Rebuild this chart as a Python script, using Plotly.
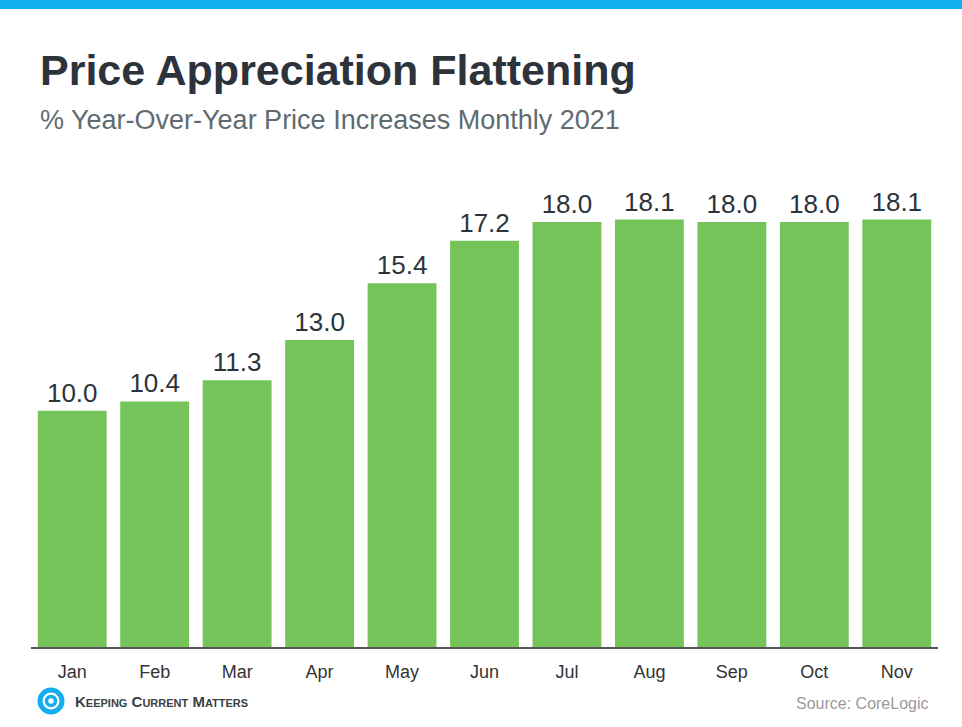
import plotly.graph_objects as go

months = ["Jan", "Feb", "Mar", "Apr", "May", "Jun", "Jul", "Aug", "Sep", "Oct", "Nov"]
yoy_pct = [10.0, 10.4, 11.3, 13.0, 15.4, 17.2, 18.0, 18.1, 18.0, 18.0, 18.1]

GREEN = "#74c45a"
BLUE = "#12aeef"
DARK = "#2d333b"

W, H = 962, 727
ML, MR, MT, MB = 31, 24, 170, 80

fig = go.Figure()
fig.add_trace(go.Bar(
    x=months,
    y=yoy_pct,
    marker=dict(color=GREEN, line=dict(width=0)),
    text=[f"{v:.1f}" for v in yoy_pct],
    textposition="outside",
    textfont=dict(size=26, color=DARK),
    cliponaxis=False,
    hoverinfo="skip",
))

# pixel -> paper coords helper for decorations
px_w = W - ML - MR
px_h = H - MT - MB
def px(x, y):
    return (x - ML) / px_w, (H - MB - y) / px_h

# top blue strip
x0, y0 = px(-5, 9)
x1, y1 = px(W + 5, -5)
fig.add_shape(type="rect", xref="paper", yref="paper",
              x0=x0, x1=x1, y0=y0, y1=y1, fillcolor=BLUE, line_width=0)

# logo swirl (rough)
cx, cy = 51, 701
for r, w in [(11, 5), (4.5, 3.5)]:
    x0, y0 = px(cx - r, cy + r)
    x1, y1 = px(cx + r, cy - r)
    fig.add_shape(type="circle", xref="paper", yref="paper",
                  x0=x0, x1=x1, y0=y0, y1=y1, line=dict(color=BLUE, width=w))

tx, ty = px(38, 70)
sx, sy = px(38, 120)
lx, ly = px(73, 701)
rx, ry = px(931, 703)

fig.update_layout(
    width=W,
    height=H,
    paper_bgcolor="white",
    plot_bgcolor="white",
    margin=dict(l=ML, r=MR, t=MT, b=MB),
    bargap=0.165,
    showlegend=False,
    font=dict(family="Liberation Sans, Arial, sans-serif", color="#333"),
    xaxis=dict(
        showgrid=False,
        showline=True,
        linecolor="#555",
        linewidth=1.5,
        ticks="",
        tickfont=dict(size=18, color="#333"),
        ticklabelstandoff=8,
    ),
    yaxis=dict(
        range=[0, 20.2],
        visible=False,
        fixedrange=True,
    ),
    annotations=[
        dict(text="<b>Price Appreciation Flattening</b>", xref="paper", yref="paper",
             x=tx, y=ty, xanchor="left", yanchor="middle", showarrow=False,
             font=dict(size=43, color=DARK)),
        dict(text="% Year-Over-Year Price Increases Monthly 2021", xref="paper", yref="paper",
             x=sx, y=sy, xanchor="left", yanchor="middle", showarrow=False,
             font=dict(size=27, color="#5f6b70")),
        dict(text="Source: CoreLogic", xref="paper", yref="paper",
             x=rx, y=ry, xanchor="right", yanchor="middle", showarrow=False,
             font=dict(size=16, color="#9a9a9a")),
        dict(text="<b>K<span style='font-size:11px'>EEPING</span> C<span style='font-size:11px'>URRENT</span> M<span style='font-size:11px'>ATTERS</span></b>",
             xref="paper", yref="paper",
             x=lx, y=ly, xanchor="left", yanchor="middle", showarrow=False,
             font=dict(size=15, color="#3a3f44")),
    ],
)

fig.write_html("out.html", config={"displayModeBar": False},
               post_script="document.body.style.margin='0';")
